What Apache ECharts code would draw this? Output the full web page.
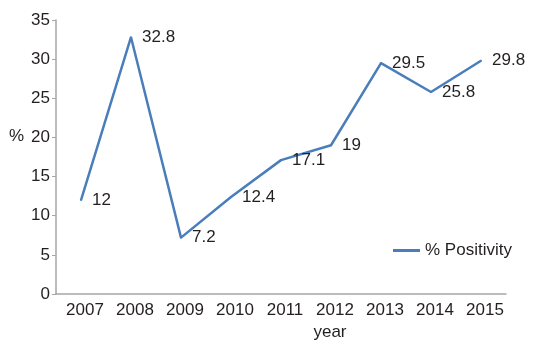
<!DOCTYPE html>
<html>
<head>
<meta charset="utf-8">
<script src="https://cdn.jsdelivr.net/npm/echarts@6/dist/echarts.min.js"></script>
<style>
  html, body { margin: 0; padding: 0; background: #fff; }
  #chart { width: 537px; height: 346px; }
</style>
</head>
<body>
<div id="chart"></div>
<script>
const years = ['2007', '2008', '2009', '2010', '2011', '2012', '2013', '2014', '2015'];
const positivity = [12, 32.8, 7.2, 12.4, 17.1, 19, 29.5, 25.8, 29.8];

const textColor = '#231f20';
const axisColor = '#a6a6a6';
const lineColor = '#4a7ebb';
const font = 'Liberation Sans, Arial, sans-serif';

const myChart = echarts.init(document.getElementById('chart'));
const option = {
  animation: false,
  textStyle: { fontFamily: font },
  grid: { left: 56, right: 31, top: 20, bottom: 52 },
  legend: {
    left: 388,
    top: 237,
    icon: 'rect',
    itemWidth: 27,
    itemHeight: 3,
    itemGap: 5,
    itemStyle: { color: lineColor, opacity: 1 },
    textStyle: { fontSize: 17, color: textColor, fontFamily: font },
    data: ['% Positivity']
  },
  graphic: [{
    type: 'text',
    left: 9,
    top: 128,
    style: { text: '%', fontSize: 17, fill: textColor, fontFamily: font }
  }],
  xAxis: {
    type: 'category',
    data: years,
    name: 'year',
    nameLocation: 'middle',
    nameGap: 30,
    nameTextStyle: { fontSize: 17, color: textColor, padding: [0, 0, 0, 98] },
    axisLine: { lineStyle: { color: axisColor, width: 1.5 } },
    axisTick: { length: 5, lineStyle: { color: axisColor } },
    axisLabel: { fontSize: 17, color: textColor, margin: 8, padding: [0, 0, 0, 8] }
  },
  yAxis: {
    type: 'value',
    min: 0,
    max: 35,
    interval: 5,
    axisLine: { show: true, lineStyle: { color: axisColor, width: 1.5 } },
    axisTick: { show: true, length: 4, lineStyle: { color: axisColor } },
    axisLabel: { fontSize: 17, color: textColor, margin: 6 },
    splitLine: { show: false }
  },
  series: [{
    name: '% Positivity',
    type: 'line',
    data: positivity,
    symbol: 'circle',
    symbolSize: 2,
    lineStyle: { color: lineColor, width: 2.5 },
    itemStyle: { color: lineColor },
    label: {
      show: true,
      position: 'right',
      distance: 10,
      fontSize: 17,
      color: textColor
    }
  }]
};

myChart.setOption(option);
</script>
</body>
</html>
